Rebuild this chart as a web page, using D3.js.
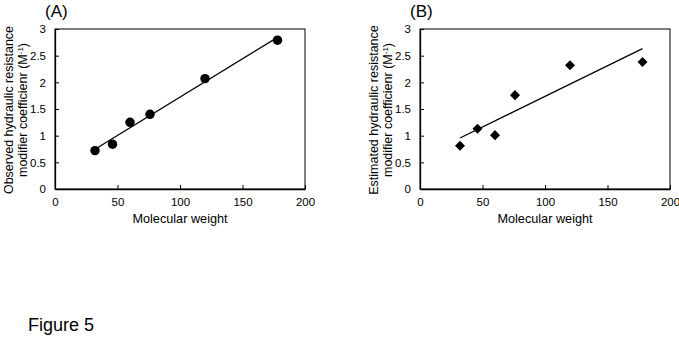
<!DOCTYPE html>
<html>
<head>
<meta charset="utf-8">
<script src="https://cdn.jsdelivr.net/npm/d3@7"></script>
<style>
  body { margin: 0; background: #fff; }
  text { font-family: Arial, "Liberation Sans", sans-serif; fill: #000; }
</style>
</head>
<body>
<div id="figure"></div>
<script>
// data
var molWeight = [32, 46, 60, 76, 120, 178];
var observed = [0.72, 0.84, 1.25, 1.40, 2.07, 2.79];
var estimated = [0.81, 1.13, 1.01, 1.76, 2.32, 2.38];
var xTicks = [0, 50, 100, 150, 200];
var yTicks = [0, 0.5, 1, 1.5, 2, 2.5, 3];

var svg = d3.select("#figure")
  .append("svg")
    .attr("width", 679)
    .attr("height", 337);

// least squares line through the points
function fitLine(xs, ys) {
  var mx = d3.mean(xs), my = d3.mean(ys);
  var sxy = d3.sum(xs, function(x, i) { return (x - mx) * (ys[i] - my); });
  var sxx = d3.sum(xs, function(x) { return (x - mx) * (x - mx); });
  var slope = sxy / sxx;
  return { slope: slope, intercept: my - slope * mx };
}

function drawPanel(left, label, titleLine1, values, marker) {
  var width = 250, height = 160, top = 29;

  var g = svg.append("g")
    .attr("transform", "translate(" + left + "," + top + ")");

  var x = d3.scaleLinear().domain([0, 200]).range([0, width]);
  var y = d3.scaleLinear().domain([0, 3]).range([height, 0]);

  // frame
  g.append("rect")
    .attr("width", width)
    .attr("height", height)
    .attr("fill", "none")
    .attr("stroke", "#000")
    .attr("stroke-width", 1);

  // axes, ticks pointing inside
  var xAxis = g.append("g")
    .attr("transform", "translate(0," + height + ")")
    .call(d3.axisBottom(x).tickValues(xTicks).tickSizeInner(-4).tickSizeOuter(0).tickPadding(9));
  var yAxis = g.append("g")
    .call(d3.axisLeft(y).tickValues(yTicks).tickFormat(d3.format("")).tickSizeInner(-4).tickSizeOuter(0).tickPadding(9));

  [xAxis, yAxis].forEach(function(a) {
    a.select(".domain").attr("stroke-width", 1.3);
    a.selectAll("text").style("font-size", "11.5px");
  });

  // trend line
  var fit = fitLine(molWeight, values);
  var x0 = d3.min(molWeight), x1 = d3.max(molWeight);
  g.append("line")
    .attr("x1", x(x0))
    .attr("y1", y(fit.intercept + fit.slope * x0))
    .attr("x2", x(x1))
    .attr("y2", y(fit.intercept + fit.slope * x1))
    .attr("stroke", "#000")
    .attr("stroke-width", 1.3);

  // points
  var sym = d3.symbol().type(marker === "circle" ? d3.symbolCircle : d3.symbolDiamond2)
    .size(marker === "circle" ? 70 : 64);
  g.selectAll(".pt")
    .data(values)
    .enter()
    .append("path")
      .attr("class", "pt")
      .attr("d", sym)
      .attr("transform", function(d, i) {
        return "translate(" + x(molWeight[i]) + "," + y(d) + ")";
      })
      .attr("fill", "#000");

  // titles
  g.append("text")
    .attr("x", width / 2)
    .attr("y", height + 34)
    .attr("text-anchor", "middle")
    .style("font-size", "12.7px")
    .text("Molecular weight");

  var yTitle = g.append("text")
    .attr("transform", "translate(-42," + (height / 2 + 1) + ") rotate(-90)")
    .attr("text-anchor", "middle")
    .style("font-size", "12.5px");
  yTitle.append("tspan")
    .attr("x", 0)
    .attr("dy", 0)
    .text(titleLine1);
  var l2 = yTitle.append("tspan")
    .attr("x", 0)
    .attr("dy", 14)
    .text("modifier coefficienr (M");
  l2.append("tspan").attr("dy", -4).style("font-size", "8px").text("-1");
  l2.append("tspan").attr("dy", 4).text(")");

  svg.append("text")
    .attr("x", left - 10)
    .attr("y", 17)
    .style("font-size", "17px")
    .text(label);
}

drawPanel(55, "(A)", "Observed hydraulic resistance", observed, "circle");
drawPanel(420, "(B)", "Estimated hydraulic resistance", estimated, "diamond");

svg.append("text")
  .attr("x", 28)
  .attr("y", 331)
  .style("font-size", "18px")
  .text("Figure 5");
</script>
</body>
</html>
